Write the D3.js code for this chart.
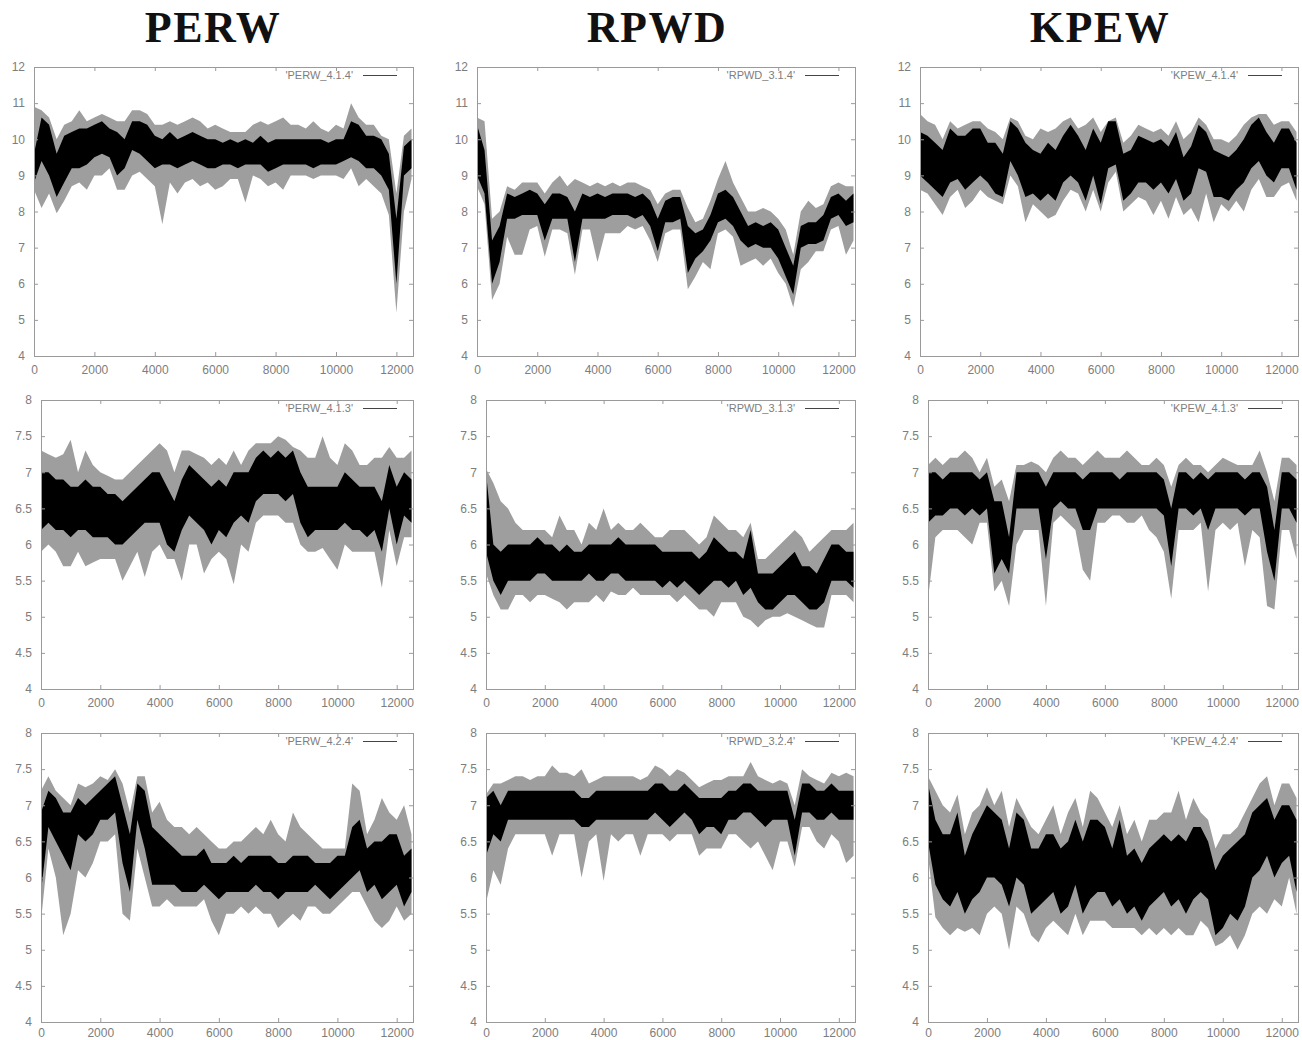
<!DOCTYPE html>
<html><head><meta charset="utf-8">
<script src="https://cdn.jsdelivr.net/npm/d3@7"></script>
<style>body{margin:0;background:#fff}svg{display:block}</style>
</head><body>
<svg id="c" width="1302" height="1040"></svg>
<script>
// ---- tick labels / categories ----
const titles = ["PERW", "RPWD", "KPEW"];
const seriesNames = [
  ["'PERW_4.1.4'", "'RPWD_3.1.4'", "'KPEW_4.1.4'"],
  ["'PERW_4.1.3'", "'RPWD_3.1.3'", "'KPEW_4.1.3'"],
  ["'PERW_4.2.4'", "'RPWD_3.2.4'", "'KPEW_4.2.4'"]
];
const xTicks = [0, 2000, 4000, 6000, 8000, 10000, 12000];
const yTicksRow1 = [4, 5, 6, 7, 8, 9, 10, 11, 12];
const yTicksRow23 = [4, 4.5, 5, 5.5, 6, 6.5, 7, 7.5, 8];
const xMax = 12550;
const sampleStep = 250; // each value below summarises one 250-step window (x = 0, 250, ... 12500)

// ---- series values: core band (top/bot, dark) and extremes (hi/lo, light) ----
const perw414Top = [9.6,10.6,10.4,9.6,10.1,10.2,10.3,10.3,10.4,10.5,10.3,10.2,10.0,10.5,10.5,10.4,10.1,10.0,10.2,10.0,10.1,10.2,10.1,10.0,10.0,9.9,10.0,9.9,10.0,9.9,10.1,9.9,10.0,10.0,10.0,10.0,10.0,10.0,10.0,9.9,10.0,10.0,10.5,10.4,10.1,10.1,10.0,9.6,7.8,9.8,10.0];
const perw414Bot = [8.8,9.4,9.0,8.4,8.8,9.2,9.2,9.3,9.5,9.6,9.5,9.0,9.2,9.7,9.6,9.4,9.2,9.3,9.3,9.2,9.3,9.4,9.3,9.2,9.2,9.3,9.3,9.2,9.3,9.3,9.3,9.1,9.2,9.3,9.3,9.3,9.3,9.2,9.3,9.3,9.3,9.4,9.5,9.4,9.2,9.2,9.0,8.6,6.0,9.0,9.2];
const perw414Hi = [10.9,10.8,10.6,10.0,10.4,10.5,10.8,10.5,10.6,10.7,10.6,10.5,10.5,10.8,10.8,10.7,10.4,10.4,10.5,10.4,10.5,10.6,10.5,10.3,10.4,10.3,10.2,10.2,10.2,10.4,10.5,10.4,10.5,10.6,10.4,10.4,10.3,10.5,10.3,10.2,10.4,10.3,11.0,10.6,10.4,10.4,10.1,10.0,8.5,10.1,10.3];
const perw414Lo = [8.6,8.1,8.5,7.95,8.3,8.7,8.8,8.6,9.0,9.0,9.2,8.6,8.6,9.0,9.1,8.9,8.7,7.65,8.8,8.5,8.8,8.9,8.7,8.8,8.6,8.7,8.9,8.9,8.25,9.0,8.9,8.7,8.8,8.6,9.0,9.0,9.0,8.9,9.0,9.0,9.0,8.9,9.2,8.7,8.9,8.7,8.5,7.9,5.2,8.0,8.9];

const rpwd314Top = [10.4,9.7,7.2,7.6,8.5,8.4,8.5,8.6,8.5,8.2,8.5,8.5,8.4,8.0,8.5,8.4,8.5,8.4,8.5,8.5,8.5,8.4,8.5,8.3,7.8,8.3,8.4,8.4,7.6,7.4,7.5,7.9,8.5,8.6,8.4,8.0,7.6,7.7,7.6,7.7,7.5,7.0,6.5,7.6,7.7,7.7,7.9,8.4,8.5,8.3,8.5];
const rpwd314Bot = [9.0,8.5,6.0,6.6,7.8,7.8,7.9,7.9,7.9,7.2,7.8,7.8,7.8,6.6,7.8,7.8,7.8,7.8,7.9,7.9,7.9,7.8,7.9,7.6,6.9,7.7,7.7,7.8,6.3,6.7,6.9,7.2,7.7,7.8,7.6,7.2,7.0,7.1,7.0,7.0,6.7,6.2,5.7,7.0,7.1,7.1,7.2,7.8,7.9,7.6,7.7];
const rpwd314Hi = [10.6,10.5,7.8,8.0,8.7,8.6,8.8,8.8,8.8,8.5,8.8,9.0,8.7,8.9,8.8,8.7,8.8,8.7,8.8,8.7,8.8,8.8,8.7,8.6,8.2,8.5,8.6,8.6,8.1,7.7,7.8,8.3,8.9,9.4,8.8,8.4,8.0,8.0,8.1,8.0,7.8,7.5,6.8,8.0,8.3,8.1,8.2,8.7,8.8,8.7,8.7];
const rpwd314Lo = [8.7,8.2,5.55,6.0,7.3,6.8,6.8,7.5,7.6,6.75,7.5,7.5,7.4,6.25,7.5,7.5,6.6,7.4,7.4,7.4,7.6,7.5,7.6,7.2,6.6,7.4,7.5,7.5,5.85,6.2,6.6,6.4,7.4,7.5,7.3,6.5,6.6,6.7,6.5,6.7,6.3,6.0,5.35,6.4,6.6,6.9,6.9,7.5,7.6,6.8,7.2];

const kpew414Top = [10.2,10.1,9.9,9.7,10.3,10.1,10.1,10.3,10.3,9.9,9.9,9.6,10.5,10.3,9.9,9.7,9.6,9.9,9.7,10.1,10.4,10.1,9.7,10.3,9.9,10.5,10.5,9.6,9.7,10.1,10.0,9.9,10.0,9.8,10.2,9.5,9.8,10.4,10.2,9.7,9.6,9.5,9.7,10.0,10.4,10.6,10.2,9.9,10.3,10.3,9.9];
const kpew414Bot = [9.0,8.8,8.6,8.4,8.8,8.9,8.6,8.8,9.0,8.8,8.5,8.4,9.4,9.0,8.4,8.5,8.3,8.5,8.3,8.8,9.0,8.8,8.3,9.0,8.2,9.2,9.3,8.3,8.5,8.8,8.8,8.6,8.8,8.5,8.9,8.3,8.5,9.2,9.1,8.4,8.4,8.3,8.6,8.8,9.2,9.4,9.0,8.8,9.2,9.2,8.6];
const kpew414Hi = [10.7,10.5,10.4,10.0,10.5,10.3,10.4,10.5,10.5,10.3,10.2,10.0,10.6,10.5,10.1,10.0,10.3,10.2,10.3,10.5,10.6,10.3,10.4,10.6,10.2,10.5,10.6,9.9,10.1,10.4,10.3,10.2,10.3,10.1,10.5,10.0,10.2,10.6,10.4,10.0,10.0,9.9,10.1,10.4,10.6,10.7,10.7,10.4,10.5,10.5,10.2];
const kpew414Lo = [8.6,8.5,8.2,7.9,8.4,8.6,8.1,8.3,8.6,8.4,8.3,8.2,9.0,8.7,7.7,8.2,8.0,7.8,7.9,8.3,8.6,8.5,8.0,8.6,8.0,8.8,9.1,8.0,8.2,8.4,8.3,7.9,8.3,7.8,8.4,7.9,8.1,7.7,8.5,7.7,8.2,8.0,8.3,8.0,8.6,8.9,8.4,8.4,8.7,8.8,8.3];

const perw413Top = [7.0,7.0,6.9,6.9,6.8,6.8,6.9,6.8,6.8,6.7,6.7,6.6,6.7,6.8,6.9,7.0,7.0,6.8,6.6,6.9,7.1,7.0,6.9,6.8,6.9,6.8,7.0,7.0,7.0,7.2,7.3,7.2,7.3,7.2,7.3,7.0,6.8,6.8,6.8,6.8,6.8,7.0,6.9,6.8,6.8,6.8,6.6,7.1,6.8,7.0,6.9];
const perw413Bot = [6.2,6.3,6.2,6.2,6.1,6.2,6.2,6.1,6.1,6.1,6.0,6.0,6.1,6.2,6.3,6.3,6.3,6.0,5.9,6.2,6.4,6.3,6.2,6.0,6.2,6.1,6.3,6.4,6.3,6.6,6.7,6.7,6.7,6.6,6.7,6.3,6.1,6.2,6.2,6.2,6.2,6.3,6.2,6.2,6.1,6.2,5.9,6.5,6.0,6.4,6.3];
const perw413Hi = [7.3,7.25,7.2,7.25,7.45,7.0,7.3,7.1,7.0,6.95,6.9,6.9,7.0,7.1,7.2,7.3,7.4,7.3,7.0,7.3,7.3,7.25,7.2,7.1,7.2,7.1,7.3,7.1,7.3,7.4,7.4,7.4,7.5,7.45,7.35,7.3,7.2,7.2,7.5,7.2,7.1,7.4,7.3,7.1,7.1,7.2,7.2,7.35,7.2,7.2,7.3];
const perw413Lo = [5.9,6.0,5.9,5.7,5.7,5.9,5.7,5.75,5.8,5.8,5.8,5.5,5.7,5.9,5.55,5.9,6.0,5.8,5.8,5.5,6.0,6.0,5.6,5.8,5.9,5.8,5.45,6.0,5.9,6.3,6.4,6.4,6.4,6.3,6.3,6.0,5.9,5.9,5.95,5.8,5.65,6.0,5.9,5.9,5.9,5.9,5.4,6.2,5.7,6.1,6.1];

const rpwd313Top = [7.0,6.0,5.9,6.0,6.0,6.0,6.0,6.1,6.0,6.0,5.9,6.0,5.9,5.9,6.0,6.0,6.0,6.0,6.1,6.0,6.0,6.0,6.0,6.0,5.9,5.9,5.9,5.9,5.9,5.8,5.9,6.1,6.0,5.9,5.9,5.8,6.2,5.6,5.6,5.6,5.7,5.8,5.9,5.7,5.7,5.6,5.8,6.0,6.0,5.9,5.9];
const rpwd313Bot = [5.9,5.5,5.3,5.5,5.5,5.5,5.5,5.6,5.6,5.5,5.5,5.5,5.5,5.5,5.6,5.5,5.5,5.6,5.6,5.5,5.5,5.5,5.5,5.5,5.4,5.5,5.4,5.5,5.4,5.3,5.4,5.5,5.5,5.4,5.5,5.3,5.4,5.2,5.1,5.1,5.2,5.3,5.3,5.2,5.1,5.1,5.2,5.5,5.5,5.5,5.4];
const rpwd313Hi = [7.05,6.85,6.6,6.5,6.3,6.2,6.2,6.2,6.2,6.1,6.4,6.2,6.2,6.0,6.3,6.2,6.5,6.2,6.3,6.2,6.2,6.3,6.2,6.1,6.1,6.2,6.2,6.2,6.1,6.0,6.1,6.4,6.3,6.2,6.2,6.1,6.3,5.8,5.8,5.9,6.0,6.1,6.2,6.1,5.9,6.0,6.1,6.2,6.2,6.2,6.3];
const rpwd313Lo = [5.6,5.3,5.1,5.1,5.3,5.3,5.2,5.3,5.3,5.25,5.2,5.1,5.2,5.2,5.2,5.3,5.2,5.35,5.3,5.3,5.4,5.3,5.3,5.3,5.3,5.3,5.2,5.3,5.2,5.1,5.1,5.0,5.2,5.2,5.2,5.0,4.95,4.85,4.95,5.0,5.0,5.05,5.0,4.95,4.9,4.85,4.85,5.3,5.3,5.3,5.2];

const kpew413Top = [7.0,7.0,6.9,7.0,7.0,7.0,7.0,6.9,7.0,6.6,6.6,6.1,7.0,7.0,7.0,7.0,6.8,7.0,7.0,7.0,7.0,6.9,7.0,7.0,7.0,7.0,6.9,7.0,7.0,7.0,7.0,7.0,6.9,6.5,7.0,7.0,6.9,7.0,6.9,7.0,7.0,7.0,7.0,6.9,7.0,7.0,6.8,6.2,7.0,7.0,6.9];
const kpew413Bot = [6.3,6.4,6.4,6.5,6.5,6.4,6.5,6.4,6.5,5.6,5.8,5.6,6.5,6.5,6.5,6.5,5.8,6.5,6.6,6.5,6.5,6.2,6.2,6.5,6.5,6.5,6.5,6.5,6.5,6.5,6.5,6.5,6.4,5.7,6.5,6.5,6.4,6.5,6.2,6.5,6.5,6.5,6.5,6.4,6.5,6.5,5.9,5.5,6.5,6.5,6.3];
const kpew413Hi = [7.1,7.2,7.1,7.2,7.2,7.3,7.2,7.0,7.2,6.8,6.9,6.6,7.1,7.1,7.15,7.1,7.0,7.2,7.3,7.2,7.2,7.1,7.2,7.3,7.2,7.2,7.2,7.3,7.2,7.1,7.1,7.2,7.1,6.8,7.1,7.2,7.1,7.1,7.0,7.1,7.2,7.15,7.1,7.1,7.1,7.3,7.0,6.6,7.2,7.2,7.1];
const kpew413Lo = [5.25,6.1,6.2,6.2,6.2,6.1,6.0,6.3,6.3,5.35,5.5,5.15,6.0,6.2,6.2,6.2,5.15,6.3,6.4,6.3,6.2,5.65,5.5,6.3,6.3,6.4,6.4,6.3,6.3,6.4,6.2,6.1,5.9,5.25,6.2,6.2,6.2,6.3,5.35,6.2,6.3,6.2,6.3,5.7,6.2,6.1,5.15,5.1,6.2,6.2,5.8];

const perw424Top = [6.9,7.2,7.1,6.9,6.9,7.1,7.0,7.1,7.2,7.3,7.4,7.0,6.6,7.3,7.2,6.7,6.6,6.5,6.4,6.3,6.3,6.3,6.4,6.2,6.2,6.2,6.3,6.2,6.3,6.3,6.3,6.3,6.2,6.2,6.3,6.3,6.3,6.2,6.2,6.2,6.3,6.3,6.7,6.8,6.4,6.5,6.5,6.6,6.6,6.3,6.4];
const perw424Bot = [5.8,6.7,6.5,6.3,6.1,6.6,6.5,6.6,6.8,6.8,6.9,6.2,5.8,6.8,6.4,5.9,5.9,5.9,5.9,5.8,5.8,5.8,5.9,5.8,5.7,5.8,5.8,5.8,5.8,5.9,5.8,5.8,5.7,5.8,5.8,5.8,5.8,5.9,5.8,5.7,5.8,5.9,6.0,6.1,5.8,5.9,5.7,5.8,5.9,5.6,5.8];
const perw424Hi = [7.2,7.4,7.2,7.1,7.0,7.3,7.25,7.3,7.4,7.35,7.5,7.3,6.9,7.4,7.4,6.9,7.05,6.8,6.7,6.7,6.6,6.7,6.6,6.5,6.4,6.4,6.5,6.5,6.6,6.7,6.6,6.8,6.6,6.5,6.9,6.7,6.6,6.5,6.4,6.4,6.4,6.4,7.3,7.2,6.6,6.8,7.1,6.9,6.8,7.0,6.6];
const perw424Lo = [5.4,6.4,6.0,5.2,5.5,6.1,6.0,6.2,6.5,6.5,6.6,5.5,5.4,6.4,6.0,5.6,5.6,5.7,5.6,5.6,5.6,5.6,5.7,5.4,5.2,5.5,5.5,5.6,5.5,5.6,5.5,5.5,5.3,5.4,5.5,5.4,5.6,5.6,5.5,5.5,5.6,5.7,5.8,5.8,5.6,5.4,5.3,5.4,5.6,5.4,5.5];

const rpwd324Top = [7.1,7.2,7.0,7.2,7.2,7.2,7.2,7.2,7.2,7.2,7.2,7.2,7.2,7.1,7.1,7.2,7.2,7.2,7.2,7.2,7.2,7.2,7.2,7.3,7.3,7.2,7.2,7.3,7.2,7.1,7.1,7.1,7.1,7.2,7.2,7.3,7.3,7.2,7.2,7.2,7.2,7.2,6.8,7.3,7.3,7.2,7.2,7.3,7.2,7.2,7.2];
const rpwd324Bot = [6.3,6.6,6.5,6.8,6.8,6.8,6.8,6.8,6.8,6.8,6.8,6.8,6.8,6.7,6.7,6.8,6.8,6.8,6.8,6.8,6.8,6.8,6.8,6.9,6.8,6.7,6.8,6.9,6.8,6.6,6.7,6.7,6.6,6.8,6.8,6.9,6.9,6.8,6.7,6.8,6.8,6.8,6.3,6.9,6.9,6.8,6.8,6.9,6.8,6.8,6.8];
const rpwd324Hi = [7.15,7.3,7.3,7.35,7.4,7.4,7.35,7.4,7.4,7.55,7.45,7.45,7.4,7.5,7.3,7.35,7.4,7.4,7.4,7.4,7.4,7.35,7.4,7.55,7.5,7.4,7.5,7.45,7.35,7.25,7.3,7.35,7.35,7.4,7.4,7.4,7.6,7.4,7.35,7.3,7.35,7.3,7.0,7.5,7.4,7.35,7.3,7.45,7.4,7.45,7.4];
const rpwd324Lo = [5.65,6.1,5.9,6.4,6.6,6.6,6.6,6.6,6.6,6.3,6.6,6.6,6.6,6.0,6.5,6.6,5.95,6.6,6.5,6.6,6.6,6.3,6.6,6.6,6.6,6.5,6.6,6.6,6.6,6.3,6.4,6.4,6.4,6.6,6.6,6.5,6.4,6.5,6.3,6.1,6.5,6.5,6.15,6.7,6.7,6.5,6.4,6.6,6.5,6.2,6.3];

const kpew424Top = [7.3,6.8,6.6,6.6,6.9,6.3,6.6,6.8,7.0,6.9,6.8,6.4,6.9,6.8,6.4,6.4,6.6,6.6,6.4,6.5,6.8,6.5,6.8,6.8,6.7,6.4,6.8,6.3,6.4,6.2,6.4,6.5,6.6,6.5,6.6,6.5,6.7,6.7,6.5,6.1,6.3,6.4,6.5,6.6,6.9,7.0,7.1,6.8,7.0,7.0,6.8];
const kpew424Bot = [6.5,5.9,5.7,5.6,5.8,5.5,5.7,5.8,6.0,6.0,5.9,5.6,6.0,5.9,5.5,5.6,5.7,5.8,5.5,5.6,5.9,5.5,5.7,5.8,5.8,5.6,5.7,5.5,5.6,5.4,5.6,5.7,5.8,5.6,5.7,5.5,5.7,5.8,5.7,5.2,5.3,5.5,5.4,5.6,6.0,6.1,6.3,6.0,6.2,6.3,5.8];
const kpew424Hi = [7.4,7.2,7.0,6.9,7.15,6.6,6.9,7.0,7.25,7.0,7.2,6.7,7.1,6.9,6.7,6.6,6.8,7.0,6.6,6.9,7.1,6.7,7.2,7.1,6.9,6.7,7.0,6.6,6.8,6.5,6.8,6.8,6.9,6.9,7.2,6.8,7.1,6.9,6.8,6.4,6.6,6.6,6.7,6.9,7.1,7.3,7.4,7.0,7.3,7.3,7.1];
const kpew424Lo = [6.3,5.45,5.3,5.2,5.3,5.25,5.3,5.2,5.5,5.6,5.5,5.0,5.6,5.5,5.2,5.1,5.3,5.4,5.3,5.2,5.5,5.2,5.4,5.4,5.4,5.3,5.3,5.3,5.3,5.2,5.3,5.2,5.3,5.2,5.3,5.2,5.2,5.4,5.3,5.05,5.1,5.2,5.0,5.2,5.5,5.6,5.5,5.7,5.6,6.0,5.5];

const seriesGrid = [
  [[perw414Top,perw414Bot,perw414Hi,perw414Lo],[rpwd314Top,rpwd314Bot,rpwd314Hi,rpwd314Lo],[kpew414Top,kpew414Bot,kpew414Hi,kpew414Lo]],
  [[perw413Top,perw413Bot,perw413Hi,perw413Lo],[rpwd313Top,rpwd313Bot,rpwd313Hi,rpwd313Lo],[kpew413Top,kpew413Bot,kpew413Hi,kpew413Lo]],
  [[perw424Top,perw424Bot,perw424Hi,perw424Lo],[rpwd324Top,rpwd324Bot,rpwd324Hi,rpwd324Lo],[kpew424Top,kpew424Bot,kpew424Hi,kpew424Lo]]
];

// ---- layout ----
const rowTop = [67, 400, 733];
const rowBottom = [356, 689, 1022];
const rowXPad = [9, 9, 6];
const colLeft = [[34, 477, 920], [41, 486, 928], [41, 486, 928]];
const colRight = [413, 855, 1298];
const titleX = [213, 657, 1100];

const svg = d3.select("#c");
const axisCol = "#9a9a9a", labelCol = "#7d7d7d";
const tickFont = "'Liberation Sans', Arial, sans-serif";

titles.forEach((t, i) => {
  svg.append("text").attr("x", titleX[i]).attr("y", 42)
    .attr("text-anchor", "middle")
    .style("font-family", "'Liberation Serif', 'Times New Roman', serif")
    .style("font-weight", "bold").style("font-size", "44px")
    .style("letter-spacing", "1.5px").attr("fill", "#111").text(t);
});

function styleAxis(sel) {
  sel.select(".domain").remove();
  sel.selectAll(".tick line").attr("stroke", axisCol);
  sel.selectAll(".tick text").attr("fill", labelCol)
    .style("font-family", tickFont).style("font-size", "12px");
}

for (let r = 0; r < 3; r++) {
  for (let c = 0; c < 3; c++) {
    const L = colLeft[r][c], R = colRight[c], T = rowTop[r], B = rowBottom[r];
    const yTicks = r === 0 ? yTicksRow1 : yTicksRow23;
    const x = d3.scaleLinear().domain([0, xMax]).range([L, R]);
    const y = d3.scaleLinear().domain([yTicks[0], yTicks[yTicks.length - 1]]).range([B, T]);
    const [top, bot, hi, lo] = seriesGrid[r][c];
    const pts = top.map((v, i) => ({ x: i * sampleStep, top: v, bot: bot[i], hi: hi[i], lo: lo[i] }));
    const g = svg.append("g");

    g.append("path")
      .attr("d", d3.area().x(d => x(d.x)).y0(d => y(d.lo)).y1(d => y(d.hi))(pts))
      .attr("fill", "#9e9e9e");
    g.append("path")
      .attr("d", d3.area().x(d => x(d.x)).y0(d => y(d.bot)).y1(d => y(d.top))(pts))
      .attr("fill", "#000");

    g.append("g").attr("transform", `translate(0,${B})`)
      .call(d3.axisBottom(x).tickValues(xTicks).tickSize(-4).tickPadding(rowXPad[r]).tickFormat(d3.format("d")))
      .call(styleAxis);
    g.append("g").attr("transform", `translate(0,${T})`)
      .call(d3.axisTop(x).tickValues(xTicks).tickSize(-4).tickFormat(""))
      .call(styleAxis);
    g.append("g").attr("transform", `translate(${L},0)`)
      .call(d3.axisLeft(y).tickValues(yTicks).tickSize(-4).tickPadding(9).tickFormat(d => String(d)))
      .call(styleAxis);
    g.append("g").attr("transform", `translate(${R},0)`)
      .call(d3.axisRight(y).tickValues(yTicks).tickSize(-4).tickFormat(""))
      .call(styleAxis);

    g.append("rect").attr("x", L + 0.5).attr("y", T + 0.5)
      .attr("width", R - L).attr("height", B - T)
      .attr("fill", "none").attr("stroke", axisCol);

    g.append("text").attr("x", R - 60).attr("y", T + 12)
      .attr("text-anchor", "end").attr("fill", labelCol)
      .style("font-family", tickFont).style("font-size", "11px")
      .text(seriesNames[r][c]);
    g.append("line").attr("x1", R - 50).attr("x2", R - 16)
      .attr("y1", T + 8.5).attr("y2", T + 8.5)
      .attr("stroke", "#444").attr("stroke-width", 1);
  }
}
</script>
</body></html>
